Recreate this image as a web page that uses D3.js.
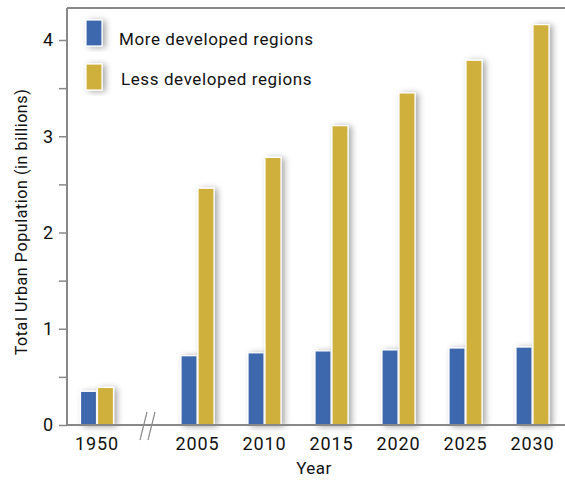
<!DOCTYPE html>
<html><head><meta charset="utf-8">
<script src="https://cdn.jsdelivr.net/npm/d3@7"></script>
<style>body{margin:0;background:#fff}svg{display:block}text{font-family:Roboto,"Noto Sans",sans-serif;fill:#111}</style>
</head><body>
<svg id="c" width="565" height="480"></svg>
<script>
const years = ["1950","2005","2010","2015","2020","2025","2030"];
const moreDeveloped = [0.35,0.72,0.75,0.77,0.78,0.80,0.81];
const lessDeveloped = [0.39,2.46,2.78,3.11,3.45,3.79,4.16];
const seriesNames = ["More developed regions","Less developed regions"];
const colors = ["#3d67ad","#d0b03c"];
const yTicks = [0,1,2,3,4];

(function(){
const svg = d3.select("#c");
const defs = svg.append("defs");
const f = defs.append("filter").attr("id","sh").attr("x","-50%").attr("y","-20%").attr("width","250%").attr("height","140%");
f.append("feDropShadow").attr("dx",3).attr("dy",1).attr("stdDeviation",3).attr("flood-color","#000").attr("flood-opacity",0.35);

const pLeft = 67, pRight = 565, pTop = 8, pBottom = 425;
const y = d3.scaleLinear().domain([0,4]).range([pBottom,40]);
// position index with axis break after first category
const idx = years.map((d,i)=> i===0 ? 0 : i+0.5);
const x = d3.scaleLinear().domain([0,6.5]).range([97,532.5]);
const bw = 16;

// frame
svg.append("line").attr("x1",pLeft).attr("x2",pRight).attr("y1",pTop).attr("y2",pTop).attr("stroke","#888").attr("stroke-width",2);
svg.append("line").attr("x1",pLeft).attr("x2",pLeft).attr("y1",pTop).attr("y2",pBottom).attr("stroke","#888").attr("stroke-width",2);

// y axis
const yAxis = d3.axisLeft(y).tickValues(d3.range(0,4.01,0.5)).tickSize(8).tickFormat(d=> yTicks.includes(d)? d : "");
const ga = svg.append("g").attr("transform",`translate(${pLeft},0)`).call(yAxis);
ga.select(".domain").remove();
ga.selectAll(".tick line").attr("stroke","#888").attr("stroke-width",1.5);
ga.selectAll(".tick text").attr("font-size",18).attr("x",-14).style("font-family","Roboto,'Noto Sans',sans-serif").attr("fill","#111");

// bars
const data = years.map((yr,i)=>({yr,i,v:[moreDeveloped[i],lessDeveloped[i]]}));
const g = svg.append("g");
data.forEach(d=>{
  d.v.forEach((v,s)=>{
    g.append("rect")
      .attr("x", x(idx[d.i]) - bw + s*(bw+1) - 0.5)
      .attr("y", y(v))
      .attr("width", bw)
      .attr("height", y(0)-y(v))
      .attr("fill", colors[s])
      .attr("stroke","#fff").attr("stroke-width",1.2)
      .attr("filter","url(#sh)");
  });
});

// x axis line
svg.append("line").attr("x1",pLeft).attr("x2",pRight).attr("y1",pBottom).attr("y2",pBottom).attr("stroke","#888").attr("stroke-width",2);
// break marks
[0,8].forEach(o=>{
  svg.append("line").attr("x1",140+o).attr("x2",147+o).attr("y1",440).attr("y2",412).attr("stroke","#888").attr("stroke-width",1.2);
});

// x labels
svg.append("g").selectAll("text").data(years).join("text")
  .attr("x",(d,i)=>x(idx[i])).attr("y",450).attr("text-anchor","middle").attr("font-size",18).attr("letter-spacing",0.9).text(d=>d);

// axis titles
svg.append("text").attr("x",314).attr("y",474).attr("text-anchor","middle").attr("font-size",17).attr("letter-spacing",0.5).text("Year");
svg.append("text").attr("transform","translate(27,222) rotate(-90)").attr("text-anchor","middle").attr("font-size",16).attr("letter-spacing",0.6).text("Total Urban Population (in billions)");

// legend
const lg = svg.append("g");
seriesNames.forEach((n,s)=>{
  lg.append("rect").attr("x",86).attr("y",20+s*44).attr("width",16).attr("height",26).attr("fill",colors[s]).attr("stroke","#fff").attr("stroke-width",1.2).attr("filter","url(#sh)");
  lg.append("text").attr("x",119+s*2).attr("y",45+s*40).attr("font-size",17).attr("letter-spacing",0.6).text(n);
});
})();
</script>
</body></html>
